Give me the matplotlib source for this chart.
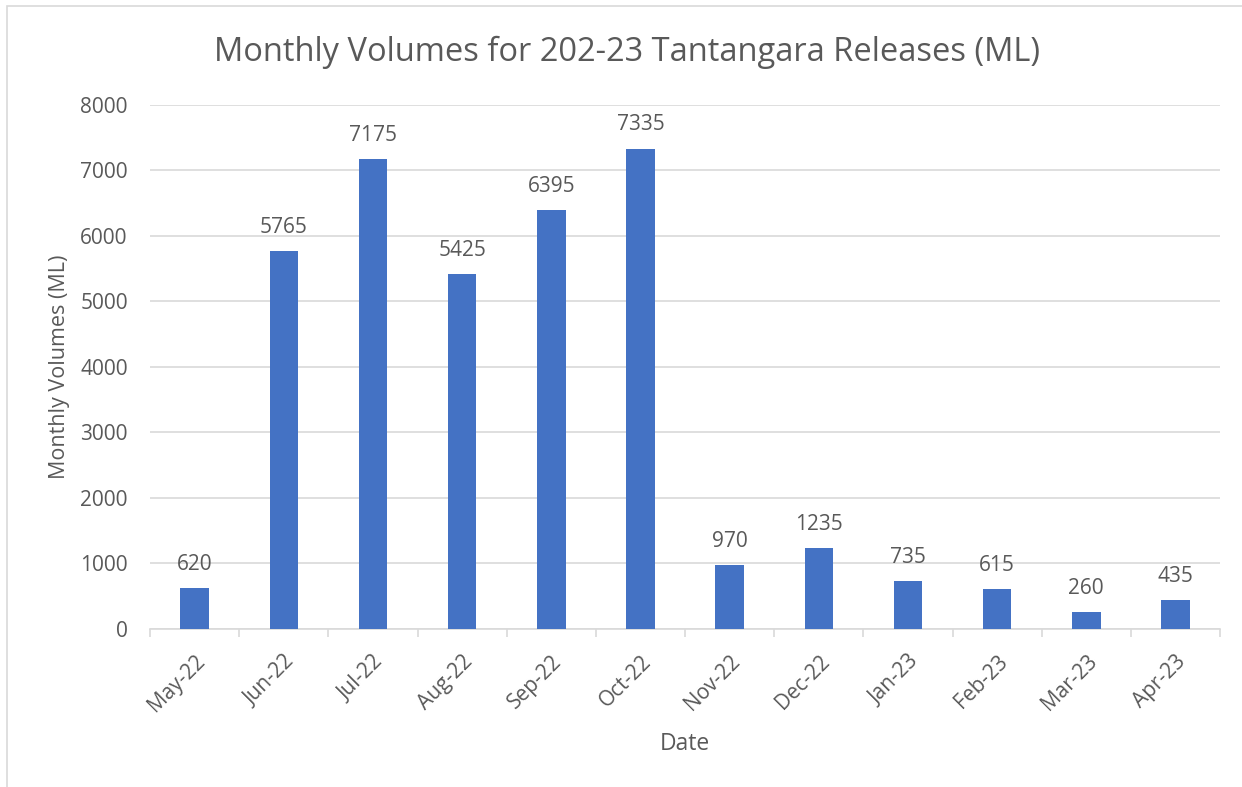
import matplotlib.pyplot as plt
import numpy as np
from matplotlib.patches import Rectangle

months = ["May-22", "Jun-22", "Jul-22", "Aug-22", "Sep-22", "Oct-22",
          "Nov-22", "Dec-22", "Jan-23", "Feb-23", "Mar-23", "Apr-23"]
volumes = [620, 5765, 7175, 5425, 6395, 7335, 970, 1235, 735, 615, 260, 435]
y_ticks = [0, 1000, 2000, 3000, 4000, 5000, 6000, 7000, 8000]

text_color = "#595959"
grid_color = "#D9D9D9"
bar_color = "#4472C4"

plt.rcParams["font.family"] = ["Open Sans", "DejaVu Sans"]

fig = plt.figure(figsize=(12.42, 7.87), dpi=100)
ax = fig.add_axes([0.1208, 0.2008, 0.8615, 0.6658])

x = np.arange(len(months))
ax.bar(x, volumes, width=0.32, color=bar_color, zorder=3)
for xi, v in zip(x, volumes):
    ax.annotate(f"{v}", (xi, v), xytext=(0, 13), textcoords="offset points",
                ha="center", va="baseline", fontsize=15, color=text_color)

ax.set_xlim(-0.5, len(months) - 0.5)
ax.set_ylim(0, 8000)
ax.set_yticks(y_ticks)
ax.yaxis.grid(True, color=grid_color, linewidth=1.2, zorder=0)
ax.tick_params(axis="y", length=0, pad=16, labelsize=15, labelcolor=text_color)

ax.set_xticks(x)
ax.set_xticklabels(months, rotation=45, ha="right", rotation_mode="anchor")
ax.tick_params(axis="x", which="major", length=0, pad=16, labelsize=15, labelcolor=text_color)
ax.set_xticks(np.arange(-0.5, len(months)), minor=True)
ax.tick_params(axis="x", which="minor", length=6, width=1.2, color=grid_color)

for side in ["top", "right", "left"]:
    ax.spines[side].set_visible(False)
ax.spines["bottom"].set_color(grid_color)
ax.spines["bottom"].set_linewidth(1.2)

ax.set_xlabel("Date", fontsize=16.5, color=text_color, labelpad=11)
ax.set_ylabel("Monthly Volumes (ML)", fontsize=15.5, color=text_color, labelpad=7)
fig.text(0.505, 0.934, "Monthly Volumes for 202-23 Tantangara Releases (ML)",
         ha="center", va="center", fontsize=23.5, color=text_color)

fig.patches.append(Rectangle((0.006, -0.01), 1.1, 1.003, transform=fig.transFigure,
                             fill=False, edgecolor=grid_color, linewidth=1.2))

fig.savefig("out.png", dpi=100)
